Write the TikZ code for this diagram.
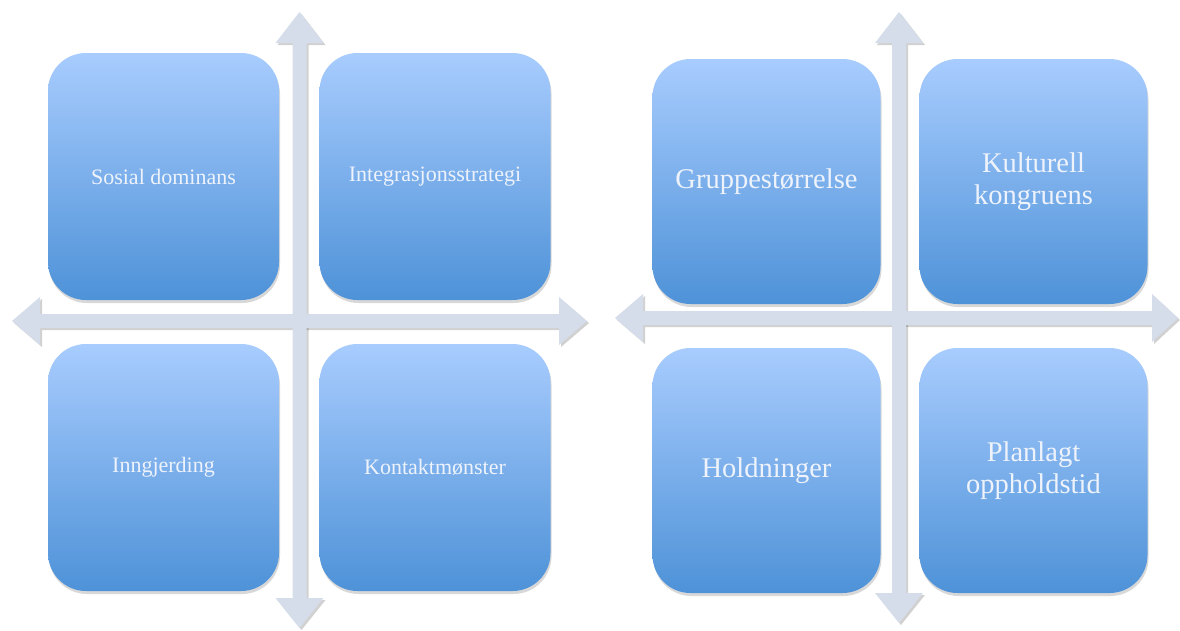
\documentclass[tikz,border=0pt]{standalone}
\usepackage{fontspec}
\setmainfont{Liberation Serif}
\usetikzlibrary{shadows}
\definecolor{boxtop}{RGB}{168,204,254}
\definecolor{boxbot}{RGB}{78,146,216}
\definecolor{arrowfill}{RGB}{214,221,234}
\definecolor{txt}{RGB}{238,243,251}
\newcommand\lhpath{(12,321) -- (40,297) -- (40,314) -- (559,314) -- (559,297) -- (587,321)
  -- (559,345) -- (559,328) -- (40,328) -- (40,345) -- cycle}
\newcommand\lvpath{(299.5,12) -- (323.5,43) -- (306.5,43) -- (306.5,598) -- (323.5,598)
  -- (299.5,628) -- (275.5,598) -- (292.5,598) -- (292.5,43) -- (275.5,43) -- cycle}
\newcommand\rhpath{(615,318) -- (643,294) -- (643,311) -- (1152,311) -- (1152,294) -- (1178,318)
  -- (1152,342) -- (1152,325) -- (643,325) -- (643,342) -- cycle}
\newcommand\rvpath{(899,12) -- (923,43) -- (906,43) -- (906,593) -- (923,593)
  -- (899,623) -- (875,593) -- (892,593) -- (892,43) -- (875,43) -- cycle}
\begin{document}
\begin{tikzpicture}[x=1pt,y=-1pt,
  quad/.style={draw=none, rounded corners=38pt, top color=boxtop, bottom color=boxbot,
    drop shadow={opacity=0.3, shadow xshift=1pt, shadow yshift=-3pt},
    text=txt, align=center, inner sep=0pt, anchor=center},
  quadL/.style={quad, minimum width=231pt, minimum height=247pt, font=\fontsize{22}{26}\selectfont},
  quadR/.style={quad, minimum width=228pt, minimum height=245pt, font=\fontsize{28.5}{32}\selectfont},
  axisshadow/.style={fill=black, opacity=0.18, draw=none, xshift=2pt, yshift=-2pt},
  axis/.style={fill=arrowfill, draw=none}]
\fill[white] (0,0) rectangle (1180,630);
\useasboundingbox (0,0) rectangle (1180,630);

% shadows of the crosses
\path[axisshadow] \lhpath;
\path[axisshadow] \lvpath;
\path[axisshadow] \rhpath;
\path[axisshadow] \rvpath;
% crosses
\path[axis] \lhpath;
\path[axis] \lvpath;
\path[axis] \rhpath;
\path[axis] \rvpath;

% left boxes
\node[quadL] (sd) at (163.5,176.5) {Sosial dominans};
\node[quadL] (is) at (435,176.5) {Integrasjonsstrategi};
\node[quadL] (ij) at (163.5,467.5) {Inngjerding};
\node[quadL] (km) at (435,467.5) {Kontaktmønster};

% right boxes
\node[quadR] (gs) at (766.5,181.5) {Gruppestørrelse};
\node[quadR] (kk) at (1033.5,181.5) {Kulturell\\kongruens};
\node[quadR] (ho) at (766.5,470.5) {Holdninger};
\node[quadR] (po) at (1033.5,470.5) {Planlagt\\oppholdstid};
\end{tikzpicture}
\end{document}
